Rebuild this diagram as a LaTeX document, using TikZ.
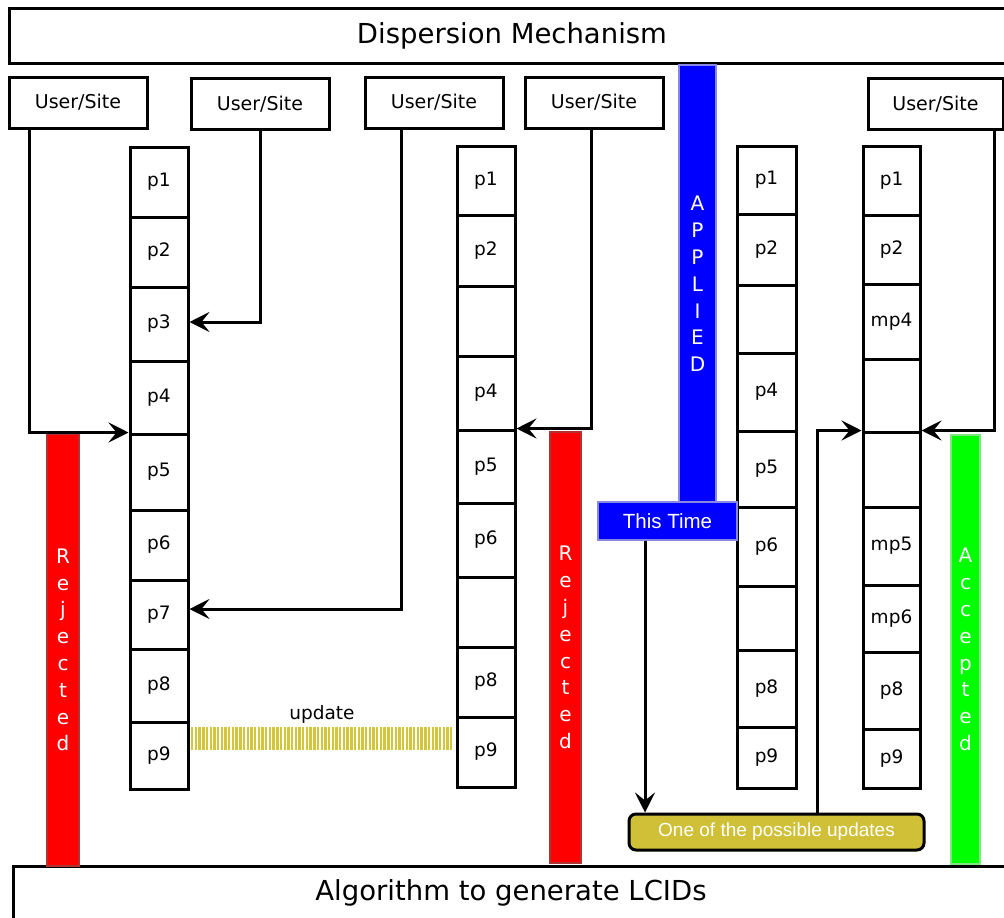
\documentclass[tikz,border=0pt]{standalone}
\usepackage{fontspec}
\setmainfont{DejaVu Sans}
\newfontfamily\arialf{Liberation Sans}
\usetikzlibrary{arrows.meta}
\definecolor{redborder}{RGB}{178,50,50}
\definecolor{blueborder}{RGB}{136,136,228}
\definecolor{greenborder}{RGB}{128,230,128}
\definecolor{yelfill}{RGB}{207,192,55}
\definecolor{hatchcol}{RGB}{212,198,58}
\newcommand\mkcol[4]{\foreach \yt/\yb/\lab [count=\i] in {#4}{\node[cell, minimum width=#3-#2, minimum height=\yb-\yt] (#1r\i) at ({(#2+#3)/2},{(\yt+\yb)/2}) {\lab};}}
\begin{document}
\begin{tikzpicture}[x=1pt,y=-1pt,
 box/.style={draw, line width=3pt, inner sep=0pt},
 cell/.style={draw, line width=3pt, inner sep=0pt, font=\fontsize{18.5}{20}\selectfont},
 user/.style={box, minimum width=138pt, minimum height=51pt, font=\fontsize{19}{20}\selectfont},
 arr/.style={line width=3pt, -{Stealth[length=20pt,width=20pt,inset=8pt]}},
 bar/.style={inner sep=0pt, line width=2.5pt, text=white, align=center, font=\fontsize{20}{26.8}\selectfont},
]
\fill[white] (0,0) rectangle (1004,918);
\useasboundingbox (0,0) rectangle (1004,918);

% top and bottom boxes
\node[box, minimum width=1006pt, minimum height=55pt, font=\fontsize{27.5}{30}\selectfont] (top) at (512,35.5) {Dispersion Mechanism};
\node[box, minimum width=996pt, minimum height=54pt, font=\fontsize{27.5}{30}\selectfont] (bot) at (511,893) {Algorithm to generate LCIDs};

% user boxes
\node[user] (u1) at (78,102.5) {User/Site};
\node[user] (u2) at (260,104) {User/Site};
\node[user] (u3) at (434,102.5) {User/Site};
\node[user] (u4) at (594,102.5) {User/Site};
\node[user, minimum width=135pt] (u5) at (935.5,104) {User/Site};

% bars
\node[bar, fill=red, draw=redborder, minimum width=32pt, minimum height=432pt] (rej1) at (63,650) {R\\e\\j\\e\\c\\t\\e\\d};
\node[bar, fill=red, draw=redborder, minimum width=31pt, minimum height=431pt] (rej2) at (565.5,647.5) {R\\e\\j\\e\\c\\t\\e\\d};
\node[bar, fill=blue, draw=blueborder, minimum width=37pt, minimum height=438pt] (appl) at (697.5,284) {A\\P\\P\\L\\I\\E\\D};
\node[bar, fill=green, draw=greenborder, minimum width=29pt, minimum height=429pt] (acc) at (965.5,649.5) {A\\c\\c\\e\\p\\t\\e\\d};

% columns
\mkcol{c1}{130}{188}{147/217/p1, 217/287/p2, 287/361/p3, 361/434/p4, 434/510/p5, 510/580/p6, 580/649/p7, 649/722/p8, 722/789/p9}
\mkcol{c2}{457}{515}{146/215/p1, 215/286/p2, 286/356/{}, 356/430/p4, 430/503/p5, 503/577/p6, 577/647/{}, 647/717/p8, 717/787/p9}
\mkcol{c3}{737}{796}{146/214/p1, 214/285/p2, 285/353/{}, 353/431/p4, 431/507/p5, 507/586/p6, 586/650/{}, 650/727/p8, 727/788/p9}
\mkcol{c4}{863}{920}{146/215/p1, 215/284/p2, 284/359/mp4, 359/432/{}, 432/507/{}, 507/585/mp5, 585/652/mp6, 652/729/p8, 729/788/p9}

% This Time and yellow box
\node[fill=blue, draw=blueborder, line width=2.5pt, minimum width=139pt, minimum height=38pt, inner sep=0pt, text=white, font=\arialf\fontsize{20.5}{22}\selectfont] (tt) at (667.5,521) {This Time};
\node[draw, line width=3pt, fill=yelfill, rounded corners=7pt, minimum width=295pt, minimum height=36pt, inner sep=0pt, text=white, font=\arialf\fontsize{19}{20}\selectfont] (yb) at (776.5,832) {One of the possible updates};

% update hatch
\coordinate (h1) at (191,738.5);
\coordinate (h2) at (452,738.5);
\draw[hatchcol, line width=23pt, dash pattern=on 2.4pt off 1.3pt] (h1) -- (h2);
\node[font=\fontsize{18.5}{20}\selectfont, inner sep=0pt] (upd) at (322,714) {update};

% arrows
\draw[arr] ([xshift=-49pt]u1.south) |- (c1r5.north west);
\draw[arr] (u2.south) |- ([yshift=2pt]c1r3.east);
\draw[arr] ([xshift=-33pt]u3.south) |- ([yshift=5.5pt]c1r7.east);
\draw[arr] ([xshift=-3pt]u4.south) |- (c2r5.north east);
\draw[arr] ([xshift=58.5pt]u5.south) |- (c4r5.north east);
\draw[arr] ([xshift=40.5pt]yb.north) |- (c4r5.north west);
\draw[arr] ([xshift=-22.5pt]tt.south) -- ([xshift=-22.5pt]tt.south |- yb.north);
\end{tikzpicture}
\end{document}
